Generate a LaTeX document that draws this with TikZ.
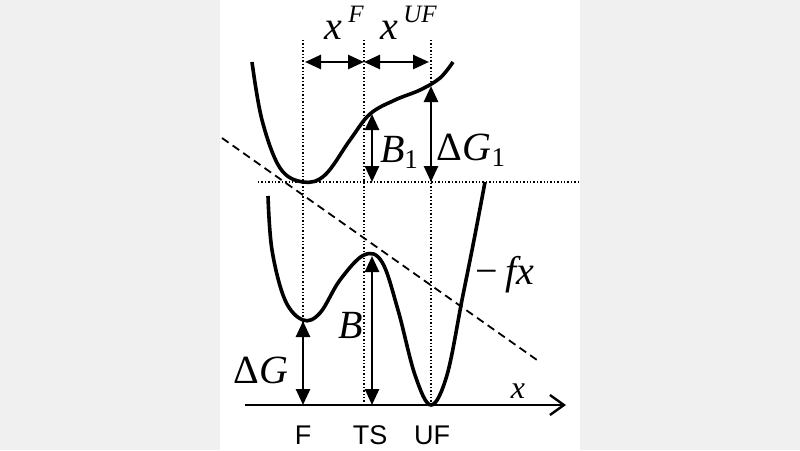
\documentclass[tikz,border=0pt]{standalone}
\usepackage{fontspec}
\setmainfont{Liberation Serif}
\setsansfont{Liberation Sans}
\usetikzlibrary{arrows.meta}
\begin{document}
\begin{tikzpicture}[x=1pt,y=-1pt,
  curve/.style={line width=3.6pt},
  guide/.style={dotted,line width=1.4pt},
  dbl/.style={line width=2.6pt,{Triangle[length=16pt,width=14pt]}-{Triangle[length=16pt,width=14pt]}},
  lab/.style={font=\fontsize{40}{44}\selectfont\itshape,inner sep=0pt},
  sup/.style={font=\fontsize{25}{28}\selectfont\itshape,inner sep=0pt},
  tick/.style={font=\sffamily\fontsize{27}{30}\selectfont}]
\useasboundingbox (0,0) rectangle (800,450);
\fill[gray!12] (0,0) rectangle (220,450);
\fill[gray!12] (580,0) rectangle (800,450);
\fill[white] (220,0) rectangle (580,450);
% guides
\coordinate (f0) at (303,40); \coordinate (f1) at (303,405);
\coordinate (t0) at (364,40); \coordinate (t1) at (364,405);
\coordinate (u0) at (431,40); \coordinate (u1) at (431,405);
\coordinate (h0) at (258,182); \coordinate (h1) at (580,182);
\draw[guide] (f0)--(f1) (t0)--(t1) (u0)--(u1) (h0)--(h1);
% axis
\coordinate (a0) at (245,405); \coordinate (a1) at (566,405);
\draw[line width=2.4pt,-{Straight Barb[length=14pt,width=20pt,line width=2.4pt]}] (a0)--(a1);
% dashed
\coordinate (d0) at (222,138); \coordinate (d1) at (537,360);
\draw[line width=1.8pt,dash pattern=on 8pt off 5pt] (d0)--(d1);
% upper curve
\draw[curve] plot[smooth,tension=0.6] coordinates{(252,62) (262,120) (280,168) (303,182) (325,175) (350,140) (370,114) (395,100) (420,90) (440,78) (453,62)};
% lower curve
\draw[curve] plot[smooth,tension=0.6] coordinates{(268,196) (272,250) (285,300) (303,320) (320,313) (340,280) (364,255) (382,262) (398,310) (415,375) (431,405) (447,375) (462,300) (474,240) (485,182)};
% arrows
\coordinate (xa) at (305,62); \coordinate (xb) at (364,62); \coordinate (xc) at (429,62);
\draw[dbl] (xa)--(xb);
\draw[dbl] (xb)--(xc);
\coordinate (b1t) at (372,114); \coordinate (b1b) at (372,182);
\draw[dbl] (b1t)--(b1b);
\coordinate (g1t) at (431,86); \coordinate (g1b) at (431,182);
\draw[dbl] (g1t)--(g1b);
\coordinate (bt) at (372,256); \coordinate (bb) at (372,405);
\draw[dbl] (bt)--(bb);
\coordinate (gt) at (303,321); \coordinate (gb) at (303,405);
\draw[dbl] (gt)--(gb);
% labels
\node[lab] (lxf) at (333,30) {x};
\node[sup] (sxf) at (356,14) {F};
\node[lab] (lxu) at (389,30) {x};
\node[sup] (sxu) at (420,14) {UF};
\node[lab] (lb1) at (399,152) {B\raisebox{-6pt}{\fontsize{27}{30}\selectfont\upshape 1}};
\node[lab] (lg1) at (471,150) {\upshape Δ\itshape G\raisebox{-6pt}{\fontsize{27}{30}\selectfont\upshape 1}};
\node[lab] (lfx) at (505,275) {\upshape −\,\itshape fx};
\node[lab] (lb) at (351,325) {B};
\node[lab] (lg) at (261,370) {\upshape Δ\itshape G};
\node[lab,font=\fontsize{32}{34}\selectfont\itshape] (lx) at (518,391) {x};
\node[tick] (tf) at (303,435) {F};
\node[tick] (tt) at (370,435) {TS};
\node[tick] (tu) at (432,435) {UF};
\end{tikzpicture}
\end{document}
